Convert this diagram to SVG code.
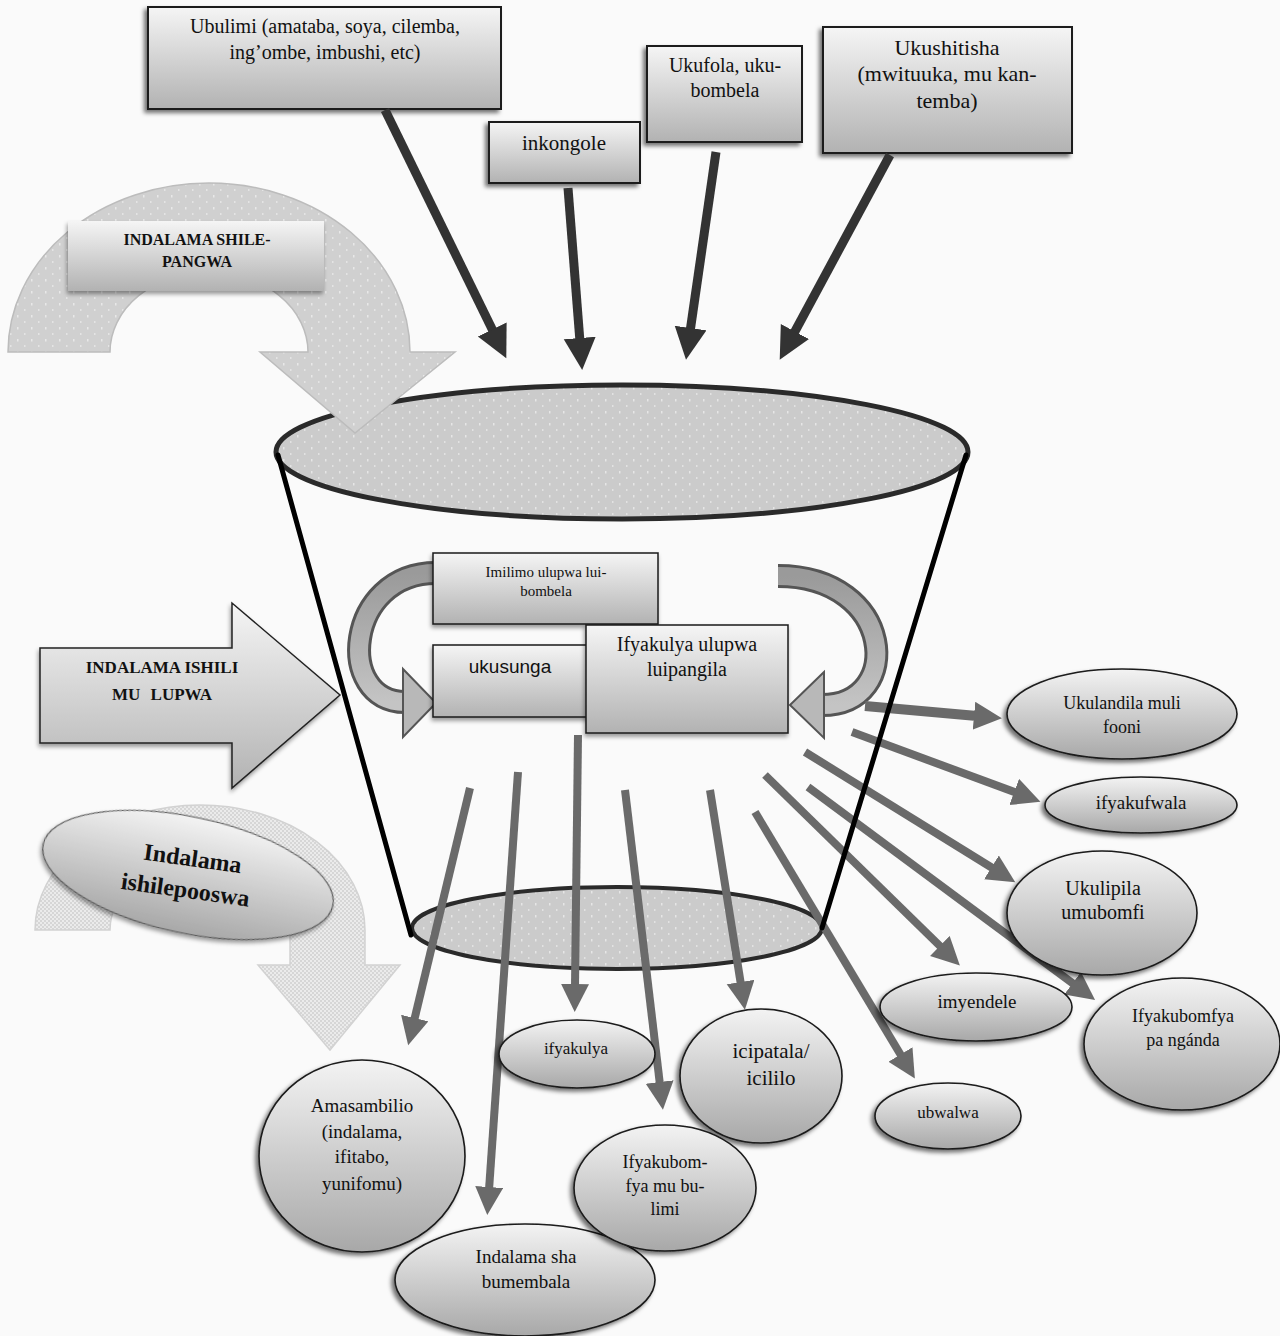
<svg xmlns="http://www.w3.org/2000/svg" width="1280" height="1336" viewBox="0 0 1280 1336">
<defs>
<linearGradient id="boxGrad" x1="0" y1="0" x2="0" y2="1"><stop offset="0" stop-color="#f5f5f5"/><stop offset="1" stop-color="#b2b2b2"/></linearGradient>
<linearGradient id="ellGrad" x1="0" y1="0" x2="0" y2="1"><stop offset="0" stop-color="#f3f3f3"/><stop offset="1" stop-color="#a8a8a8"/></linearGradient>
<linearGradient id="curGrad" x1="0" y1="0" x2="0" y2="1"><stop offset="0" stop-color="#9a9a9a"/><stop offset="1" stop-color="#c4c4c4"/></linearGradient>
<pattern id="dots" width="14" height="12" patternUnits="userSpaceOnUse"><rect width="14" height="12" fill="#cbcbcb"/><rect x="3" y="3" width="1.5" height="2.5" fill="#e6e6e6"/><rect x="10" y="9" width="1.5" height="2" fill="#e2e2e2"/></pattern>
<pattern id="dots2" width="14" height="12" patternUnits="userSpaceOnUse"><rect width="14" height="12" fill="#d0d0d0"/><rect x="3" y="3" width="1.5" height="2.5" fill="#e8e8e8"/><rect x="10" y="9" width="1.5" height="2" fill="#e4e4e4"/></pattern>
<pattern id="chk" width="4" height="4" patternUnits="userSpaceOnUse"><rect width="4" height="4" fill="#ebebeb"/><rect width="2" height="2" fill="#d6d6d6"/><rect x="2" y="2" width="2" height="2" fill="#d6d6d6"/></pattern>
<filter id="sh" x="-20%" y="-20%" width="140%" height="150%"><feDropShadow dx="-3" dy="3" stdDeviation="2" flood-color="#000" flood-opacity="0.55"/></filter>
<filter id="shs" x="-20%" y="-20%" width="140%" height="150%"><feDropShadow dx="-1" dy="3" stdDeviation="2" flood-color="#000" flood-opacity="0.4"/></filter>
<marker id="mDark" markerUnits="userSpaceOnUse" markerWidth="34" markerHeight="34" refX="4" refY="16" orient="auto"><path d="M0,0 L32,16 L0,32 z" fill="#333"/></marker>
<marker id="mGrey" markerUnits="userSpaceOnUse" markerWidth="30" markerHeight="30" refX="3" refY="14" orient="auto"><path d="M0,0 L28,14 L0,28 z" fill="#6a6a6a"/></marker>
<style>
.box{fill:url(#boxGrad);stroke:#1a1a1a;stroke-width:2;filter:url(#sh)}
.ell{fill:url(#ellGrad);stroke:#1a1a1a;stroke-width:1.6;filter:url(#sh)}
.t{font-family:"Liberation Serif","Times New Roman",serif;fill:#111;text-anchor:middle}
.b{font-weight:bold}
.dark{stroke:#333;stroke-width:9;fill:none;marker-end:url(#mDark)}
.grey{stroke:#6a6a6a;stroke-width:8;fill:none;marker-end:url(#mGrey)}
.curO{stroke:#555;stroke-width:24;fill:none}
.curI{stroke:url(#curGrad);stroke-width:18;fill:none}
.curH{fill:#b8b8b8;stroke:#555;stroke-width:2}
</style>
</defs>
<rect width="1280" height="1336" fill="#fafafa"/>

<!-- bucket -->
<g id="bucket">
<ellipse cx="622" cy="452" rx="346" ry="67" fill="url(#dots)" stroke="#2a2a2a" stroke-width="5"/>
<ellipse cx="617" cy="928" rx="205" ry="41" fill="url(#dots)" stroke="#2a2a2a" stroke-width="4"/>
</g>

<!-- big curved arrow top-left -->
<g id="shilepangwa-arrow">
<path d="M8,352 A201,169 0 0 1 410,352 L455,352 L355,433 L260,352 L308,352 A99,80 0 0 0 110,352 Z" fill="url(#dots2)" stroke="#bcbcbc" stroke-width="1.5"/>
</g>
<g id="shilepangwa">
<rect x="68" y="221" width="256" height="70" fill="url(#boxGrad)" filter="url(#shs)"/>
<text class="t b" x="197" y="245" font-size="16">INDALAMA SHILE-</text>
<text class="t b" x="197" y="267" font-size="16">PANGWA</text>
</g>

<!-- top boxes -->
<g id="ubulimi">
<rect class="box" x="148" y="7" width="353" height="102"/>
<text class="t" x="325" y="33" font-size="20">Ubulimi (amataba, soya, cilemba,</text>
<text class="t" x="325" y="59" font-size="20">ing’ombe, imbushi, etc)</text>
</g>
<g id="inkongole">
<rect class="box" x="489" y="122" width="151" height="61"/>
<text class="t" x="564" y="150" font-size="21">inkongole</text>
</g>
<g id="ukufola">
<rect class="box" x="647" y="46" width="155" height="96"/>
<text class="t" x="725" y="72" font-size="20">Ukufola, uku-</text>
<text class="t" x="725" y="97" font-size="20">bombela</text>
</g>
<g id="ukushitisha">
<rect class="box" x="823" y="27" width="249" height="126"/>
<text class="t" x="947" y="55" font-size="22">Ukushitisha</text>
<text class="t" x="947" y="81" font-size="22">(mwituuka, mu kan-</text>
<text class="t" x="947" y="108" font-size="22">temba)</text>
</g>

<!-- left block arrow -->
<g id="ishili-mu-lupwa">
<polygon points="40,648 232,648 232,603 340,695 232,788 232,743 40,743" fill="url(#boxGrad)" stroke="#222" stroke-width="1.5" filter="url(#shs)"/>
<text class="t b" x="162" y="673" font-size="17">INDALAMA ISHILI</text>
<text class="t b" x="162" y="700" font-size="17" word-spacing="6">MU LUPWA</text>
</g>

<!-- lower-left light arc -->
<g id="ishilepooswa-arrow">
<path d="M35,930 A165,125 0 0 1 365,930 L365,965 L400,965 L330,1050 L258,965 L290,965 L290,930 A90,70 0 0 0 110,930 Z" fill="url(#chk)" stroke="#d2d2d2" stroke-width="1.5"/>
</g>
<g id="ishilepooswa">
<ellipse cx="188" cy="875" rx="148" ry="58" transform="rotate(12 188 875)" fill="url(#ellGrad)" stroke="#555" stroke-width="1.2" filter="url(#shs)"/>
<g transform="rotate(8 188 878)">
<text class="t b" x="190" y="866" font-size="24">Indalama</text>
<text class="t b" x="187" y="898" font-size="24">ishilepooswa</text>
</g>
</g>

<!-- curved arrows inside bucket -->
<g id="curved-left">
<path class="curO" d="M436,573 C345,573 335,702 405,702"/>
<path class="curI" d="M436,573 C345,573 335,702 405,702"/>
<polygon class="curH" points="403,669 436,703 403,737"/>
</g>
<g id="curved-right">
<path class="curO" d="M778,576 C895,576 905,705 822,705"/>
<path class="curI" d="M778,576 C895,576 905,705 822,705"/>
<polygon class="curH" points="824,672 790,705 824,738"/>
</g>

<!-- inner boxes -->
<g id="imilimo">
<rect class="box" x="433" y="553" width="225" height="71" style="stroke-width:1.5;filter:url(#shs)"/>
<text class="t" x="546" y="577" font-size="15">Imilimo ulupwa lui-</text>
<text class="t" x="546" y="596" font-size="15">bombela</text>
</g>
<g id="ukusunga">
<rect class="box" x="433" y="645" width="159" height="72" style="stroke-width:1.5;filter:url(#shs)"/>
<text x="510" y="673" font-size="19" font-family="'Liberation Sans',Arial,sans-serif" fill="#111" text-anchor="middle">ukusunga</text>
</g>
<g id="ifyakulya-ulupwa">
<rect class="box" x="586" y="625" width="202" height="108" style="stroke-width:1.5;filter:url(#shs)"/>
<text class="t" x="687" y="651" font-size="20">Ifyakulya ulupwa</text>
<text class="t" x="687" y="676" font-size="20">luipangila</text>
</g>

<!-- connectors -->
<g id="connectors">
<line class="dark" x1="385" y1="110" x2="494" y2="333"/>
<line class="dark" x1="568" y1="188" x2="580" y2="342"/>
<line class="dark" x1="716" y1="152" x2="690" y2="332"/>
<line class="dark" x1="890" y1="155" x2="793" y2="335"/>

<line class="grey" x1="470" y1="788" x2="414" y2="1021"/>
<line class="grey" x1="518" y1="772" x2="489" y2="1190"/>
<line class="grey" x1="578" y1="735" x2="575" y2="987"/>
<line class="grey" x1="625" y1="790" x2="660" y2="1085"/>
<line class="grey" x1="710" y1="790" x2="741" y2="985"/>
<line class="grey" x1="755" y1="812" x2="902" y2="1057"/>
<line class="grey" x1="765" y1="775" x2="942" y2="948"/>
<line class="grey" x1="808" y1="787" x2="1075" y2="985"/>
<line class="grey" x1="805" y1="752" x2="994" y2="869"/>
<line class="grey" x1="852" y1="732" x2="1017" y2="793"/>
<line class="grey" x1="865" y1="706" x2="977" y2="716" style="stroke-width:10"/>
</g>

<!-- bucket sides on top -->
<g id="bucket-sides">
<line x1="278" y1="455" x2="411" y2="935" stroke="#000" stroke-width="5" stroke-linecap="round"/>
<line x1="966" y1="455" x2="822" y2="928" stroke="#000" stroke-width="5" stroke-linecap="round"/>
</g>

<!-- right ellipses -->
<g id="ukulandila">
<ellipse class="ell" cx="1122" cy="714" rx="115" ry="45"/>
<text class="t" x="1122" y="709" font-size="18">Ukulandila muli</text>
<text class="t" x="1122" y="733" font-size="18">fooni</text>
</g>
<g id="ifyakufwala">
<ellipse class="ell" cx="1141" cy="805" rx="96" ry="28"/>
<text class="t" x="1141" y="809" font-size="19">ifyakufwala</text>
</g>
<g id="ukulipila">
<ellipse class="ell" cx="1102" cy="913" rx="95" ry="62"/>
<text class="t" x="1103" y="895" font-size="20">Ukulipila</text>
<text class="t" x="1103" y="919" font-size="20">umubomfi</text>
</g>
<g id="imyendele">
<ellipse class="ell" cx="976" cy="1007" rx="96" ry="34"/>
<text class="t" x="977" y="1008" font-size="19">imyendele</text>
</g>
<g id="pa-nganda">
<ellipse class="ell" cx="1182" cy="1044" rx="98" ry="66"/>
<text class="t" x="1183" y="1022" font-size="18">Ifyakubomfya</text>
<text class="t" x="1183" y="1046" font-size="18">pa ngánda</text>
</g>
<g id="ubwalwa">
<ellipse class="ell" cx="948" cy="1116" rx="73" ry="33"/>
<text class="t" x="948" y="1118" font-size="17">ubwalwa</text>
</g>

<!-- bottom ellipses -->
<g id="ifyakulya">
<ellipse class="ell" cx="577" cy="1054" rx="78" ry="34"/>
<text class="t" x="576" y="1054" font-size="17">ifyakulya</text>
</g>
<g id="icipatala">
<ellipse class="ell" cx="761" cy="1076" rx="81" ry="67"/>
<text class="t" x="771" y="1058" font-size="21">icipatala/</text>
<text class="t" x="771" y="1085" font-size="21">icililo</text>
</g>
<g id="bumembala">
<ellipse class="ell" cx="525" cy="1280" rx="130" ry="56"/>
<text class="t" x="526" y="1263" font-size="19">Indalama sha</text>
<text class="t" x="526" y="1288" font-size="19">bumembala</text>
</g>
<g id="amasambilio">
<ellipse class="ell" cx="362" cy="1156" rx="103" ry="96"/>
<text class="t" x="362" y="1112" font-size="19">Amasambilio</text>
<text class="t" x="362" y="1138" font-size="19">(indalama,</text>
<text class="t" x="362" y="1163" font-size="19">ifitabo,</text>
<text class="t" x="362" y="1190" font-size="19">yunifomu)</text>
</g>
<g id="bulimi">
<ellipse class="ell" cx="665" cy="1188" rx="91" ry="63"/>
<text class="t" x="665" y="1168" font-size="18">Ifyakubom-</text>
<text class="t" x="665" y="1192" font-size="18">fya mu bu-</text>
<text class="t" x="665" y="1215" font-size="18">limi</text>
</g>
</svg>
